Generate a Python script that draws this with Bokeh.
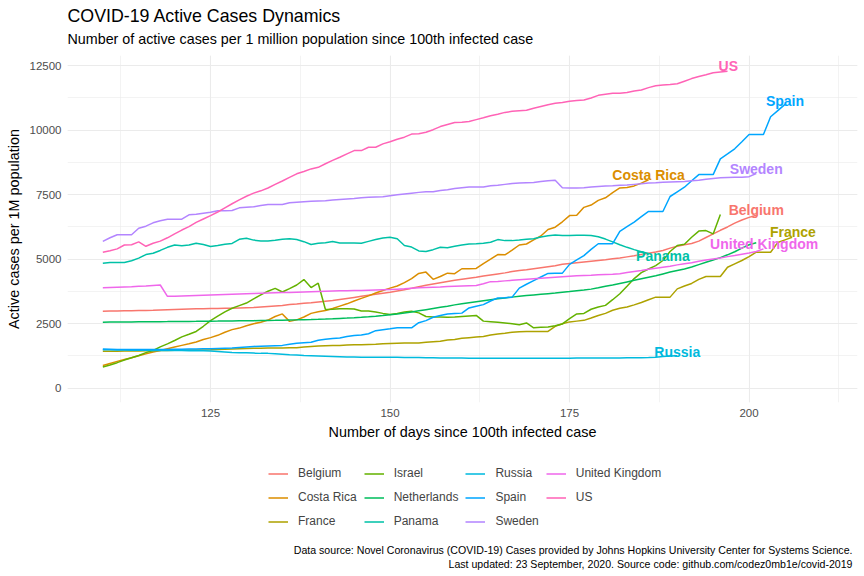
from bokeh.plotting import figure
from bokeh.layouts import column
from bokeh.models import (Range1d, SingleIntervalTicker, Legend, LegendItem,
                          ColumnDataSource, NumeralTickFormatter)
from bokeh.embed import file_html
from bokeh.resources import INLINE
from bokeh.core.properties import value

FONT = "Liberation Sans"

# ---------------- data ----------------
countries = ["Belgium", "Costa Rica", "France", "Israel", "Netherlands", "Panama",
             "Russia", "Spain", "Sweden", "United Kingdom", "US"]
colors = ["#F8766D", "#DB8E00", "#AEA200", "#64B200", "#00BD5C", "#00C1A7",
          "#00BADE", "#00A6FF", "#B385FF", "#EF67EB", "#FF63B6"]
first_day = 110  # days since 100th infected case of the first value in each list

belgium = [2985, 2990, 2995, 3000, 3005, 3010, 3015, 3020, 3030, 3040,
           3050, 3060, 3070, 3075, 3080, 3085, 3090, 3095, 3100, 3110,
           3120, 3130, 3150, 3170, 3190, 3210, 3240, 3260, 3290, 3310,
           3340, 3370, 3400, 3440, 3480, 3520, 3560, 3600, 3640, 3680,
           3720, 3770, 3820, 3870, 3930, 3990, 4040, 4090, 4140, 4180,
           4220, 4260, 4300, 4350, 4390, 4430, 4470, 4520, 4560, 4590,
           4630, 4670, 4710, 4750, 4800, 4830, 4860, 4890, 4920, 4950,
           4980, 5020, 5050, 5090, 5130, 5180, 5230, 5280, 5340, 5430,
           5500, 5560, 5610, 5700, 5840, 5980, 6120, 6250, 6400, 6520,
           6620, 6700]
costa_rica = [880, 960, 1040, 1110, 1180, 1260, 1330, 1400, 1460, 1530,
              1600, 1660, 1720, 1790, 1890, 1960, 2050, 2170, 2270, 2330,
              2420, 2500, 2560, 2640, 2780, 2880, 2590, 2650, 2760, 2900,
              2960, 3010, 3090, 3180, 3270, 3380, 3480, 3580, 3690, 3790,
              3880, 3960, 4090, 4250, 4450, 4500, 4220, 4330, 4460, 4440,
              4630, 4630, 4640, 4830, 5000, 5180, 5170, 5350, 5550, 5590,
              5750, 5900, 6150, 6240, 6450, 6690, 6700, 7010, 7100, 7280,
              7380, 7580, 7760, 7780, 7840, 7950, 8080]
france = [1430, 1430, 1435, 1440, 1440, 1445, 1450, 1455, 1460, 1465,
          1470, 1475, 1480, 1480, 1485, 1490, 1500, 1510, 1520, 1530,
          1540, 1545, 1550, 1555, 1560, 1560, 1565, 1570, 1600, 1620,
          1640, 1650, 1655, 1660, 1670, 1680, 1680, 1690, 1700, 1720,
          1730, 1740, 1750, 1750, 1750, 1780, 1800, 1820, 1870, 1890,
          1940, 1960, 1980, 2000, 2060, 2100, 2130, 2170, 2190, 2200,
          2200, 2200, 2200, 2400, 2500, 2570, 2600, 2630, 2720, 2820,
          2900, 3020, 3100, 3150, 3230, 3320, 3430, 3530, 3530, 3530,
          3850, 3960, 4060, 4220, 4330, 4330, 4330, 4690, 4820, 4950,
          5100, 5270, 5270, 5270, 5650, 5750, 5850]
israel = [820, 900, 990, 1090, 1180, 1270, 1380, 1460, 1600, 1720,
          1850, 1990, 2090, 2200, 2400, 2620, 2790, 2960, 3100, 3200,
          3300, 3460, 3620, 3760, 3870, 3730, 3860, 4000, 4210, 3900,
          4070, 3050, 3060, 3080, 3080, 3070, 2990, 2990, 2950, 2900,
          2860, 2900, 2950, 2980, 2920, 2780, 2760, 2760, 2750, 2760,
          2780, 2800, 2820, 2600, 2580, 2560, 2530, 2500, 2460, 2530,
          2340, 2360, 2370, 2420, 2490, 2700, 2880, 2900, 3060, 3150,
          3210, 3430, 3660, 3950, 4250, 4480, 4620, 4750, 4950, 5300,
          5530, 5580, 5850, 6090, 6110, 5980, 6730]
netherlands = [2560, 2562, 2565, 2568, 2570, 2573, 2575, 2578, 2580, 2582,
               2585, 2588, 2590, 2592, 2595, 2598, 2600, 2603, 2606, 2610,
               2614, 2618, 2622, 2627, 2632, 2638, 2644, 2650, 2657, 2664,
               2672, 2682, 2693, 2705, 2718, 2732, 2748, 2765, 2785, 2815,
               2850, 2880, 2915, 2955, 3000, 3045, 3090, 3135, 3180, 3230,
               3270, 3310, 3350, 3390, 3430, 3465, 3500, 3530, 3560, 3590,
               3615, 3640, 3665, 3690, 3718, 3745, 3775, 3805, 3840, 3890,
               3950, 4000, 4060, 4120, 4180, 4240, 4300, 4360, 4430, 4500,
               4560, 4620, 4700, 4790, 4880, 4970, 5060, 5170, 5290, 5430,
               5560, 5640]
panama = [4840, 4870, 4870, 4870, 4940, 5040, 5180, 5230, 5340, 5460,
          5550, 5520, 5550, 5620, 5570, 5490, 5530, 5580, 5610, 5770,
          5810, 5740, 5710, 5710, 5730, 5770, 5790, 5760, 5680, 5570,
          5620, 5640, 5690, 5630, 5630, 5630, 5620, 5690, 5760, 5820,
          5850, 5790, 5530, 5470, 5320, 5300, 5370, 5460, 5440, 5500,
          5550, 5590, 5600, 5620, 5660, 5760, 5720, 5720, 5740, 5770,
          5790, 5860, 5910, 5940, 5920, 5920, 5930, 5930, 5920, 5870,
          5780, 5670, 5560, 5460, 5370, 5290, 5220]
russia = [1490, 1490, 1480, 1480, 1470, 1470, 1470, 1460, 1460, 1460,
          1460, 1460, 1450, 1450, 1450, 1440, 1420, 1400, 1380, 1370,
          1370, 1360, 1350, 1350, 1340, 1320, 1300, 1290, 1270, 1260,
          1250, 1240, 1230, 1220, 1210, 1210, 1200, 1200, 1200, 1200,
          1200, 1200, 1190, 1190, 1190, 1180, 1180, 1170, 1170, 1170,
          1170, 1160, 1160, 1160, 1160, 1160, 1160, 1160, 1160, 1160,
          1160, 1160, 1160, 1160, 1160, 1165, 1170, 1170, 1170, 1170,
          1170, 1175, 1175, 1180, 1180, 1185, 1190, 1200, 1230, 1250,
          1260]
spain = [1520, 1510, 1500, 1500, 1500, 1500, 1500, 1500, 1500, 1500,
         1510, 1510, 1520, 1520, 1530, 1530, 1540, 1550, 1560, 1580,
         1600, 1620, 1630, 1640, 1650, 1660, 1700, 1740, 1760, 1780,
         1860, 1900, 1930, 1950, 2000, 2040, 2060, 2110, 2230, 2270,
         2300, 2340, 2340, 2340, 2540, 2620, 2750, 2820, 2880, 2900,
         2910, 3110, 3180, 3240, 3380, 3500, 3510, 3530, 3880, 4030,
         4170, 4310, 4450, 4460, 4460, 4800, 4970, 5140, 5380, 5600,
         5600, 5600, 6080, 6260, 6440, 6650, 6850, 6850, 6850, 7430,
         7610, 7790, 8040, 8280, 8280, 8280, 8890, 9080, 9280, 9550,
         9830, 9830, 9830, 10520, 10760, 11000]
sweden = [5690, 5830, 5950, 5950, 5950, 6200, 6280, 6410, 6490, 6550,
          6550, 6550, 6720, 6740, 6780, 6820, 6880, 6880, 6890, 6990,
          7010, 7030, 7080, 7120, 7120, 7120, 7190, 7210, 7230, 7250,
          7260, 7270, 7290, 7310, 7330, 7350, 7380, 7400, 7410, 7420,
          7460, 7500, 7530, 7560, 7590, 7610, 7610, 7660, 7690, 7740,
          7770, 7800, 7800, 7800, 7850, 7870, 7900, 7930, 7950, 7960,
          7970, 8010, 8040, 8060, 7770, 7760, 7760, 7770, 7800, 7820,
          7840, 7850, 7870, 7880, 7900, 7920, 7950, 7960, 7980, 7990,
          8000, 8010, 8040, 8060, 8100, 8130, 8160, 8170, 8180, 8180,
          8200, 8320]
united_kingdom = [3890, 3900, 3910, 3920, 3930, 3950, 3960, 3980, 4000, 3560,
                  3560, 3570, 3580, 3590, 3600, 3610, 3620, 3630, 3640, 3650,
                  3660, 3670, 3680, 3690, 3700, 3705, 3710, 3720, 3730, 3740,
                  3750, 3760, 3770, 3775, 3780, 3785, 3790, 3800, 3810, 3820,
                  3830, 3840, 3850, 3870, 3890, 3900, 3910, 3920, 3940, 3950,
                  3960, 3970, 3980, 4050, 4130, 4140, 4160, 4180, 4200, 4220,
                  4240, 4260, 4280, 4300, 4320, 4340, 4360, 4370, 4380, 4400,
                  4410, 4420, 4440, 4480, 4520, 4560, 4610, 4650, 4690, 4730,
                  4780, 4820, 4860, 4920, 4970, 5010, 5050, 5100, 5140, 5190,
                  5240, 5300, 5400]
us = [5270, 5330, 5400, 5550, 5560, 5670, 5500, 5620, 5700, 5830,
      5980, 6130, 6260, 6430, 6560, 6690, 6830, 6990, 7150, 7300,
      7440, 7560, 7650, 7760, 7900, 8030, 8170, 8310, 8400, 8500,
      8560, 8700, 8830, 8950, 9080, 9210, 9210, 9340, 9340, 9470,
      9550, 9650, 9730, 9850, 9860, 9920, 10020, 10140, 10220, 10300,
      10310, 10340, 10410, 10480, 10560, 10620, 10690, 10730, 10750, 10770,
      10850, 10920, 10990, 11040, 11070, 11120, 11150, 11170, 11250, 11350,
      11390, 11430, 11430, 11460, 11520, 11560, 11650, 11720, 11750, 11770,
      11800, 11900, 12000, 12080, 12150, 12230, 12260, 12280]

series = [belgium, costa_rica, france, israel, netherlands, panama,
          russia, spain, sweden, united_kingdom, us]

x_ticks_interval = 25
y_ticks_interval = 2500

# end-of-line labels (countries labelled in the chart) and their nudges (days, cases)
labelled = ["US", "Spain", "Sweden", "Costa Rica", "Belgium", "France",
            "United Kingdom", "Panama", "Russia"]
label_nudge = {"US": (0.1, 200), "Spain": (0.0, 150), "Sweden": (0.0, 185),
               "Costa Rica": (0.0, 190), "Belgium": (0.0, 215), "France": (0.1, 185),
               "United Kingdom": (0.1, 197), "Panama": (2.0, -77), "Russia": (0.0, 135)}

title = "COVID-19 Active Cases Dynamics"
subtitle = "Number of active cases per 1 million population since 100th infected case"
x_title = "Number of days since 100th infected case"
y_title = "Active cases per 1M population"
caption1 = "Data source: Novel Coronavirus (COVID-19) Cases provided by Johns Hopkins University Center for Systems Science."
caption2 = "Last updated: 23 September, 2020. Source code: github.com/codez0mb1e/covid-2019"

W = 860
H0, H1, H2 = 55, 391, 126
FRAME_L, FRAME_R = 67, 857   # plotting-frame edges in page pixels (strips align to it)


def strip(height):
    s = figure(width=W, height=height, output_backend="svg", toolbar_location=None,
               x_range=Range1d(FRAME_L, FRAME_R), y_range=Range1d(0, height),
               x_axis_location=None, y_axis_location=None,
               min_border=0, outline_line_color=None,
               background_fill_color="white", border_fill_color="white")
    s.grid.visible = False
    return s


# ---------------- title strip ----------------
t = strip(H0)
t.text(x=[67], y=[H0 - 15], text=[title], text_font=value(FONT),
       text_font_size=value("17.8px"), text_color="black",
       text_align="left", text_baseline="middle")
t.text(x=[67], y=[H0 - 38], text=[subtitle], text_font=value(FONT),
       text_font_size=value("14.3px"), text_color="black",
       text_align="left", text_baseline="middle")

# ---------------- main plot ----------------
p = figure(width=W, height=H1, output_backend="svg", toolbar_location=None,
           x_range=Range1d(105.08, 215.1), y_range=Range1d(-554, 12895),
           min_border_left=FRAME_L, min_border_right=W - FRAME_R, min_border_top=0,
           min_border_bottom=44, outline_line_color=None,
           background_fill_color="white", border_fill_color="white")

p.xaxis.ticker = SingleIntervalTicker(interval=x_ticks_interval, num_minor_ticks=2)
p.yaxis.ticker = SingleIntervalTicker(interval=y_ticks_interval, num_minor_ticks=2)
p.yaxis.formatter = NumeralTickFormatter(format="0")

for g in (p.xgrid, p.ygrid):
    g.grid_line_color = "#EBEBEB"
    g.grid_line_width = 1.1
    g.minor_grid_line_color = "#EBEBEB"
    g.minor_grid_line_width = 0.6

for ax in (p.xaxis, p.yaxis):
    ax.axis_line_color = None
    ax.major_tick_line_color = None
    ax.minor_tick_line_color = None
    ax.major_tick_out = 0
    ax.major_tick_in = 0
    ax.major_label_text_font = FONT
    ax.major_label_text_font_size = "11.5px"
    ax.major_label_text_color = "#4D4D4D"
    ax.axis_label_text_font = FONT
    ax.axis_label_text_font_size = "14.4px"
    ax.axis_label_text_font_style = "normal"
    ax.axis_label_text_color = "black"

p.xaxis.axis_label = x_title
p.yaxis.axis_label = y_title
p.xaxis.major_label_standoff = 2
p.xaxis.axis_label_standoff = 4
p.yaxis.major_label_standoff = 2
p.yaxis.axis_label_standoff = 5

for name, col, vals in zip(countries, colors, series):
    days = [first_day + i for i in range(len(vals))]
    p.line(days, vals, line_color=col, line_width=1.5)

# labels at the end of lines
lx, ly, lt, lc = [], [], [], []
for name in labelled:
    i = countries.index(name)
    vals = series[i]
    dx, dy = label_nudge[name]
    lx.append(first_day + len(vals) - 1 + dx)
    ly.append(vals[-1] + dy)
    lt.append(name)
    lc.append(colors[i])
src = ColumnDataSource(dict(x=lx, y=ly, text=lt, color=lc))
p.text(x="x", y="y", text="text", text_color="color", source=src,
       text_font=value(FONT), text_font_style="bold", text_font_size=value("14px"),
       text_align="center", text_baseline="middle")

# ---------------- legend + caption strip ----------------
q = strip(H2)

# legend keys: the same series, which lie outside this strip's visible range
key_renderers = []
for col, vals in zip(colors, series):
    days = [first_day + i for i in range(len(vals))]
    key_renderers.append(q.line(days, vals, line_color=col, line_width=1.8, line_alpha=0.85))
items = [LegendItem(label=n, renderers=[r]) for n, r in zip(countries, key_renderers)]
legend = Legend(items=items, nrows=3, orientation="vertical", location=(201, 42.5),
                label_text_font=FONT, label_text_font_size="12px",
                glyph_width=20, glyph_height=17, label_height=17, label_standoff=10,
                spacing=7, padding=0, margin=0, border_line_color=None,
                background_fill_alpha=0)
q.add_layout(legend, "center")

cap = ColumnDataSource(dict(x=[852, 852], y=[H2 - 103, H2 - 117], text=[caption1, caption2]))
q.text(x="x", y="y", text="text", source=cap, text_font=value(FONT),
       text_font_size=value("10.6px"), text_color="black",
       text_align="right", text_baseline="middle")

open("out.html", "w").write(file_html(column(t, p, q), INLINE))
